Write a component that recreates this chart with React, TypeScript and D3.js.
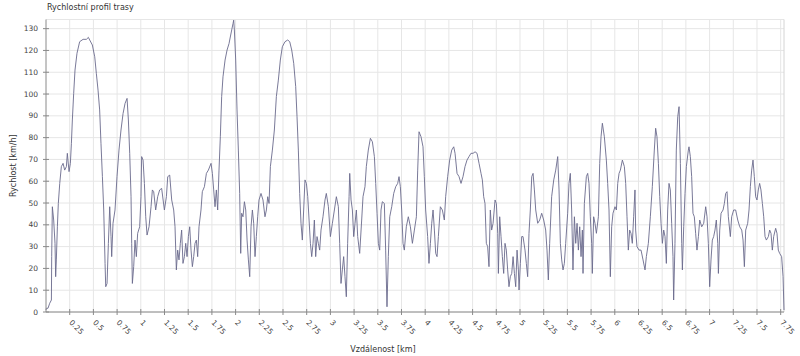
import React from "react";
import * as d3 from "d3";

const distanceKm: number[] = [
  0.000, 0.004, 0.021, 0.039, 0.057, 0.060, 0.067, 0.081, 0.095, 0.102, 0.109, 0.120, 0.130, 0.145, 0.162, 0.180, 0.197, 0.215, 0.225, 0.243,
  0.257, 0.268, 0.278, 0.292, 0.306, 0.327, 0.355, 0.391, 0.426, 0.447, 0.461, 0.489, 0.514, 0.531, 0.549, 0.566, 0.580, 0.595, 0.609, 0.623,
  0.630, 0.644, 0.658, 0.672, 0.686, 0.693, 0.707, 0.728, 0.749, 0.770, 0.791, 0.813, 0.834, 0.855, 0.869, 0.883, 0.897, 0.904, 0.911, 0.925,
  0.939, 0.953, 0.967, 0.988, 1.002, 1.009, 1.024, 1.038, 1.052, 1.066, 1.087, 1.108, 1.122, 1.136, 1.157, 1.178, 1.199, 1.220, 1.249, 1.270,
  1.284, 1.305, 1.326, 1.347, 1.361, 1.375, 1.389, 1.403, 1.417, 1.431, 1.445, 1.460, 1.474, 1.488, 1.502, 1.516, 1.530, 1.544, 1.558, 1.572,
  1.586, 1.600, 1.614, 1.635, 1.649, 1.671, 1.692, 1.713, 1.741, 1.755, 1.769, 1.783, 1.797, 1.811, 1.825, 1.839, 1.853, 1.867, 1.889, 1.910,
  1.931, 1.938, 1.959, 1.973, 1.980, 1.987, 2.001, 2.015, 2.029, 2.043, 2.054, 2.064, 2.078, 2.093, 2.107, 2.121, 2.135, 2.149, 2.163, 2.177,
  2.191, 2.205, 2.219, 2.233, 2.247, 2.268, 2.289, 2.310, 2.325, 2.339, 2.353, 2.367, 2.388, 2.409, 2.430, 2.451, 2.472, 2.493, 2.521, 2.550,
  2.571, 2.592, 2.613, 2.634, 2.648, 2.662, 2.676, 2.690, 2.704, 2.718, 2.732, 2.747, 2.761, 2.775, 2.789, 2.803, 2.817, 2.831, 2.845, 2.859,
  2.873, 2.887, 2.901, 2.922, 2.943, 2.957, 2.979, 3.000, 3.021, 3.042, 3.063, 3.084, 3.098, 3.112, 3.126, 3.140, 3.154, 3.168, 3.182, 3.197,
  3.204, 3.218, 3.232, 3.246, 3.260, 3.274, 3.288, 3.309, 3.330, 3.344, 3.365, 3.379, 3.400, 3.422, 3.443, 3.464, 3.478, 3.492, 3.506, 3.520,
  3.534, 3.548, 3.569, 3.583, 3.597, 3.611, 3.626, 3.647, 3.668, 3.689, 3.710, 3.724, 3.738, 3.752, 3.766, 3.780, 3.801, 3.822, 3.844, 3.865,
  3.886, 3.907, 3.921, 3.935, 3.956, 3.977, 3.991, 4.005, 4.026, 4.040, 4.055, 4.069, 4.083, 4.097, 4.111, 4.125, 4.139, 4.160, 4.181, 4.202,
  4.216, 4.237, 4.258, 4.280, 4.301, 4.315, 4.336, 4.357, 4.378, 4.399, 4.420, 4.441, 4.462, 4.483, 4.505, 4.526, 4.547, 4.568, 4.589, 4.603,
  4.617, 4.631, 4.645, 4.659, 4.673, 4.687, 4.701, 4.716, 4.737, 4.751, 4.765, 4.772, 4.786, 4.800, 4.814, 4.828, 4.842, 4.856, 4.870, 4.884,
  4.898, 4.913, 4.927, 4.941, 4.955, 4.969, 4.983, 4.990, 5.004, 5.018, 5.032, 5.053, 5.067, 5.081, 5.095, 5.109, 5.124, 5.138, 5.152, 5.166,
  5.187, 5.208, 5.229, 5.250, 5.271, 5.285, 5.299, 5.313, 5.334, 5.356, 5.377, 5.398, 5.412, 5.426, 5.440, 5.454, 5.468, 5.482, 5.503, 5.517,
  5.531, 5.545, 5.559, 5.574, 5.588, 5.602, 5.616, 5.630, 5.644, 5.658, 5.665, 5.679, 5.700, 5.714, 5.728, 5.742, 5.756, 5.763, 5.777, 5.791,
  5.806, 5.827, 5.841, 5.855, 5.869, 5.890, 5.911, 5.925, 5.939, 5.953, 5.967, 5.981, 6.002, 6.017, 6.031, 6.045, 6.059, 6.080, 6.101, 6.115,
  6.129, 6.143, 6.157, 6.171, 6.185, 6.199, 6.213, 6.220, 6.234, 6.256, 6.277, 6.298, 6.319, 6.333, 6.354, 6.375, 6.396, 6.417, 6.431, 6.445,
  6.460, 6.474, 6.488, 6.502, 6.516, 6.530, 6.544, 6.558, 6.572, 6.586, 6.600, 6.614, 6.621, 6.635, 6.649, 6.664, 6.678, 6.692, 6.706, 6.713,
  6.727, 6.741, 6.755, 6.776, 6.783, 6.797, 6.811, 6.825, 6.839, 6.853, 6.867, 6.882, 6.896, 6.917, 6.938, 6.959, 6.973, 6.987, 7.001, 7.015,
  7.029, 7.043, 7.057, 7.071, 7.086, 7.093, 7.107, 7.121, 7.142, 7.156, 7.170, 7.184, 7.198, 7.219, 7.233, 7.254, 7.275, 7.297, 7.318, 7.339,
  7.353, 7.367, 7.381, 7.402, 7.416, 7.430, 7.444, 7.458, 7.472, 7.486, 7.500, 7.514, 7.528, 7.542, 7.557, 7.571, 7.585, 7.599, 7.620, 7.634,
  7.648, 7.662, 7.676, 7.697, 7.711, 7.725, 7.739, 7.760, 7.775, 7.782, 7.785,
];

const speedKmh: number[] = [
  0.9, 1.7, 1.7, 4.0, 5.5, 25.4, 48.3, 42.2, 31.5, 16.2, 23.9, 39.1, 49.8, 59.0, 66.7, 68.2, 65.1, 66.7, 72.8, 64.4,
  68.2, 77.4, 88.1, 100.3, 111.0, 118.7, 124.0, 125.1, 125.1, 126.0, 124.8, 122.5, 117.1, 109.5, 101.8, 92.7, 77.4, 62.1, 46.8, 22.3,
  11.6, 13.1, 31.5, 48.3, 34.6, 25.4, 40.7, 46.8, 62.1, 74.3, 83.5, 91.1, 95.7, 98.0, 88.1, 72.8, 52.9, 31.5, 13.1, 20.8,
  33.0, 25.4, 36.1, 39.1, 52.9, 71.3, 69.7, 59.0, 43.7, 35.3, 39.1, 48.3, 56.0, 55.2, 46.8, 52.9, 56.0, 56.7, 46.8, 52.9,
  62.1, 62.8, 51.4, 46.8, 39.1, 19.3, 28.4, 23.9, 31.5, 37.6, 22.3, 25.4, 31.5, 25.4, 34.6, 39.1, 28.4, 20.8, 25.4, 31.5,
  33.0, 25.4, 39.1, 46.8, 55.2, 57.5, 63.6, 65.1, 68.2, 63.6, 56.0, 48.3, 56.0, 46.8, 65.1, 80.4, 98.8, 107.9, 115.6, 120.2,
  123.2, 124.8, 129.4, 132.4, 133.9, 129.4, 115.6, 92.7, 74.3, 54.4, 26.9, 45.3, 43.7, 50.6, 46.8, 33.0, 23.9, 16.2, 39.1, 46.8,
  40.7, 25.4, 34.6, 43.7, 51.4, 54.4, 51.4, 43.7, 46.8, 52.9, 49.8, 66.7, 74.3, 83.5, 98.8, 106.4, 115.6, 121.7, 124.0, 124.8,
  124.0, 120.2, 114.1, 103.4, 89.6, 74.3, 54.4, 40.7, 33.0, 46.8, 60.6, 59.0, 52.9, 42.2, 31.5, 25.4, 31.5, 42.2, 25.4, 34.6,
  31.5, 28.4, 37.6, 43.7, 51.4, 54.4, 48.3, 34.6, 40.7, 46.8, 52.9, 48.3, 31.5, 13.1, 19.3, 25.4, 16.2, 7.0, 31.5, 52.9,
  63.6, 51.4, 46.8, 34.6, 40.7, 46.8, 34.6, 26.9, 42.2, 52.9, 57.5, 66.7, 74.3, 79.7, 78.1, 71.3, 59.0, 45.3, 31.5, 28.4,
  46.8, 50.6, 49.8, 28.4, 2.4, 25.4, 43.7, 48.3, 54.4, 57.5, 59.0, 62.1, 57.5, 46.8, 31.5, 28.4, 39.1, 43.7, 39.1, 31.5,
  37.6, 43.7, 65.1, 82.7, 80.4, 75.8, 62.1, 46.8, 34.6, 22.3, 31.5, 40.7, 46.8, 37.6, 26.9, 25.4, 34.6, 48.3, 46.8, 42.2,
  52.9, 62.1, 69.7, 74.3, 75.8, 72.8, 63.6, 62.1, 59.0, 62.1, 66.7, 69.7, 71.3, 72.8, 72.8, 73.5, 72.8, 68.2, 63.6, 60.6,
  52.9, 49.8, 31.5, 30.0, 20.8, 46.8, 37.6, 40.7, 51.4, 49.8, 36.1, 17.7, 43.7, 34.6, 25.4, 17.7, 31.5, 28.4, 19.3, 11.6,
  16.2, 17.7, 25.4, 17.7, 11.6, 28.4, 19.3, 10.1, 22.3, 34.6, 34.6, 28.4, 22.3, 16.2, 36.1, 46.8, 62.1, 63.6, 56.0, 46.8,
  40.7, 42.2, 45.3, 42.2, 37.6, 28.4, 14.7, 31.5, 52.9, 60.6, 65.1, 71.3, 56.0, 31.5, 23.9, 19.3, 22.3, 31.5, 45.3, 59.0,
  63.6, 46.8, 19.3, 43.7, 31.5, 40.7, 28.4, 39.1, 25.4, 37.6, 17.7, 49.8, 62.1, 63.6, 59.0, 43.7, 31.5, 17.7, 43.7, 40.7,
  36.1, 43.7, 68.2, 80.4, 86.6, 80.4, 69.7, 59.0, 46.8, 16.2, 39.1, 45.3, 48.3, 46.8, 59.0, 63.6, 65.1, 69.7, 66.7, 59.0,
  43.7, 28.4, 37.6, 36.1, 31.5, 43.7, 56.0, 37.6, 30.0, 28.4, 28.4, 23.9, 19.3, 25.4, 31.5, 43.7, 57.5, 74.3, 84.3, 80.4,
  68.2, 52.9, 40.7, 31.5, 37.6, 34.6, 22.3, 46.8, 59.0, 56.0, 40.7, 25.4, 5.5, 31.5, 74.3, 89.6, 94.2, 68.2, 31.5, 19.3,
  39.1, 54.4, 66.7, 74.3, 75.8, 71.3, 62.1, 45.3, 43.7, 36.1, 28.4, 34.6, 42.2, 39.1, 40.7, 48.3, 43.7, 31.5, 11.6, 23.9,
  33.0, 34.6, 37.6, 42.2, 31.5, 17.7, 37.6, 45.3, 46.8, 49.8, 54.4, 55.2, 43.7, 34.6, 43.7, 46.8, 46.8, 42.2, 39.1, 37.6,
  33.0, 20.8, 37.6, 40.7, 46.8, 57.5, 65.1, 69.7, 62.1, 52.9, 51.4, 56.0, 59.0, 56.0, 49.8, 43.7, 34.6, 33.0, 34.6, 37.6,
  36.1, 28.4, 34.6, 38.4, 36.1, 28.4, 26.9, 25.4, 16.2, 5.5, 0.9,
];

const yTicks: number[] = [0, 10, 20, 30, 40, 50, 60, 70, 80, 90, 100, 110, 120, 130];
const xTicks: number[] = [0.25, 0.5, 0.75, 1, 1.25, 1.5, 1.75, 2, 2.25, 2.5, 2.75, 3, 3.25, 3.5, 3.75, 4, 4.25, 4.5, 4.75, 5, 5.25, 5.5, 5.75, 6, 6.25, 6.5, 6.75, 7, 7.25, 7.5, 7.75];
const xTickLabels: string[] = ["0.25", "0.5", "0.75", "1", "1.25", "1.5", "1.75", "2", "2.25", "2.5", "2.75", "3", "3.25", "3.5", "3.75", "4", "4.25", "4.5", "4.75", "5", "5.25", "5.5", "5.75", "6", "6.25", "6.5", "6.75", "7", "7.25", "7.5", "7.75"];

const title = "Rychlostní profil trasy";
const yLabel = "Rychlost [km/h]";
const xLabel = "Vzdálenost [km]";

const W = 800;
const H = 356;
const left = 46;
const right = 784;
const top = 19.5;
const bottom = 312;
const font = "'DejaVu Sans', Verdana, sans-serif";

export default function App() {
  const x = d3.scaleLinear().domain([0, 7.785]).range([left, right]);
  const y = d3.scaleLinear().domain([0, 134.2]).range([bottom, top]);
  const pts = distanceKm.map((d, i) => [d, speedKmh[i]] as [number, number]);
  const line = d3
    .line<[number, number]>()
    .x((d) => x(d[0]))
    .y((d) => y(d[1]));

  return (
    <svg
      width={W}
      height={H}
      style={{ position: "absolute", left: 0, top: 0, background: "#fff" }}
      fontFamily={font}
    >
      <rect x={0} y={0} width={W} height={H} fill="#fff" />
      {yTicks.map((t) => (
        <line key={"gy" + t} x1={left} x2={right} y1={y(t)} y2={y(t)} stroke="#e6e6e6" strokeWidth={1} />
      ))}
      {xTicks.map((t) => (
        <line key={"gx" + t} x1={x(t)} x2={x(t)} y1={top} y2={bottom} stroke="#e6e6e6" strokeWidth={1} />
      ))}
      <line x1={left} x2={right} y1={top} y2={top} stroke="#e6e6e6" />
      <line x1={right} x2={right} y1={top} y2={bottom} stroke="#d4d4d4" />
      <path d={line(pts) || ""} fill="none" stroke="#6a6a8c" strokeWidth={0.9} strokeLinejoin="round" />
      <line x1={left} x2={left} y1={top} y2={bottom} stroke="#8a8a8a" />
      <line x1={left} x2={right} y1={bottom} y2={bottom} stroke="#8a8a8a" />
      {yTicks.map((t) => (
        <g key={"ty" + t}>
          <line x1={left - 3} x2={left + 3} y1={y(t)} y2={y(t)} stroke="#8a8a8a" />
          <text x={38} y={y(t)} dy="0.35em" textAnchor="end" fontSize={7.5} fill="#444">
            {t}
          </text>
        </g>
      ))}
      {xTicks.map((t, i) => (
        <g key={"tx" + t}>
          <line x1={x(t)} x2={x(t)} y1={bottom - 3} y2={bottom + 3} stroke="#8a8a8a" />
          <text
            transform={`translate(${x(t) - 1},${bottom + 11}) rotate(45)`}
            textAnchor="start"
            fontSize={7.5}
            fill="#444"
          >
            {xTickLabels[i]}
          </text>
        </g>
      ))}
      <text x={47} y={10} fontSize={8} fill="#333">
        {title}
      </text>
      <text transform={`translate(13,${(top + bottom) / 2}) rotate(-90)`} textAnchor="middle" dy="0.35em" fontSize={8} fill="#333">
        {yLabel}
      </text>
      <text x={383} y={352} textAnchor="middle" fontSize={8} fill="#333">
        {xLabel}
      </text>
    </svg>
  );
}
